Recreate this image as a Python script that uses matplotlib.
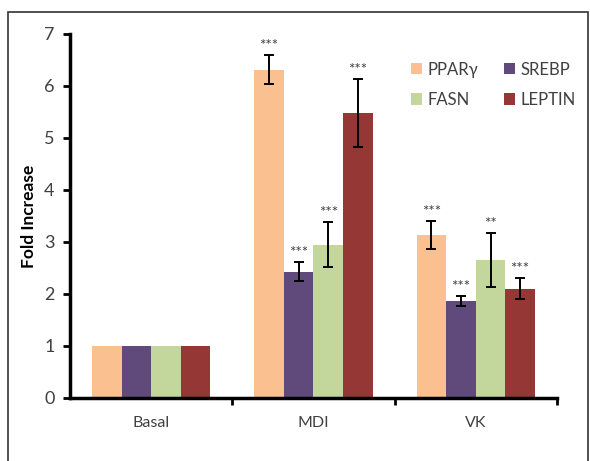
import matplotlib.pyplot as plt
import numpy as np

# Gene expression fold change per treatment
groups = ['Basal', 'MDI', 'VK']
genes = ['PPARγ', 'SREBP', 'FASN', 'LEPTIN']
colors = ['#FAC090', '#604A7B', '#C3D69B', '#953735']

pparg = [1.0, 6.31, 3.14]
srebp = [1.0, 2.43, 1.86]
fasn = [1.0, 2.95, 2.65]
leptin = [1.0, 5.48, 2.10]

pparg_err = [0, 0.28, 0.27]
srebp_err = [0, 0.18, 0.10]
fasn_err = [0, 0.43, 0.52]
leptin_err = [0, 0.65, 0.20]

pparg_sig = ['', '***', '***']
srebp_sig = ['', '***', '***']
fasn_sig = ['', '***', '**']
leptin_sig = ['', '***', '***']

values = [pparg, srebp, fasn, leptin]
errors = [pparg_err, srebp_err, fasn_err, leptin_err]
stars = [pparg_sig, srebp_sig, fasn_sig, leptin_sig]

plt.rcParams['font.family'] = ['Lato', 'DejaVu Sans']

fig = plt.figure(figsize=(5.9, 4.61), dpi=100)
ax = fig.add_axes([0.1186, 0.1367, 0.8254, 0.7896])

# outer chart frame
fig.add_artist(plt.Rectangle((8 / 590, -0.05), 580 / 590, 1 - 12 / 461 + 0.05,
                             transform=fig.transFigure, fill=False,
                             edgecolor='#333333', linewidth=1.2))

x = np.arange(len(groups))
w = 0.182
handles = []
for i in range(len(genes)):
    pos = x + (i - 1.5) * w
    b = ax.bar(pos, values[i], w, color=colors[i], label=genes[i], zorder=2)
    handles.append(b)
    for j in range(len(groups)):
        if errors[i][j] > 0:
            ax.errorbar(pos[j], values[i][j], yerr=errors[i][j], fmt='none',
                        ecolor='black', elinewidth=1.4, capsize=3.5,
                        capthick=1.4, zorder=3)
        if stars[i][j]:
            ax.text(pos[j], values[i][j] + errors[i][j] + 0.04, stars[i][j],
                    ha='center', va='bottom', fontsize=11, color='#404040')

ax.set_xlim(-0.5, 2.5)
ax.set_ylim(0, 7)
ax.set_yticks(range(8))
ax.set_xticks(x)
ax.set_xticklabels(groups)
ax.set_xticks([0.5, 1.5, 2.5], minor=True)
ax.tick_params(axis='x', which='major', length=0, pad=13, labelsize=11.5,
               labelcolor='#404040')
ax.tick_params(axis='x', which='minor', length=5, width=2)
ax.tick_params(axis='y', length=5, width=2, labelsize=13, labelcolor='#404040',
               pad=6)
for s in ['top', 'right']:
    ax.spines[s].set_visible(False)
for s in ['left', 'bottom']:
    ax.spines[s].set_linewidth(2.5)

ax.set_ylabel('Fold Increase', fontsize=12.5, fontweight='bold', labelpad=5)

# legend in rows: PPARγ, SREBP / FASN, LEPTIN
order = [0, 2, 1, 3]
ax.legend([handles[k] for k in order], [genes[k] for k in order],
          loc='upper left', bbox_to_anchor=(0.67, 0.965), ncol=2,
          frameon=False, fontsize=12, handlelength=0.65, handleheight=0.65,
          handletextpad=0.35, columnspacing=1.5, labelspacing=0.85,
          labelcolor='#404040')

fig.savefig('out.png', dpi=100)
